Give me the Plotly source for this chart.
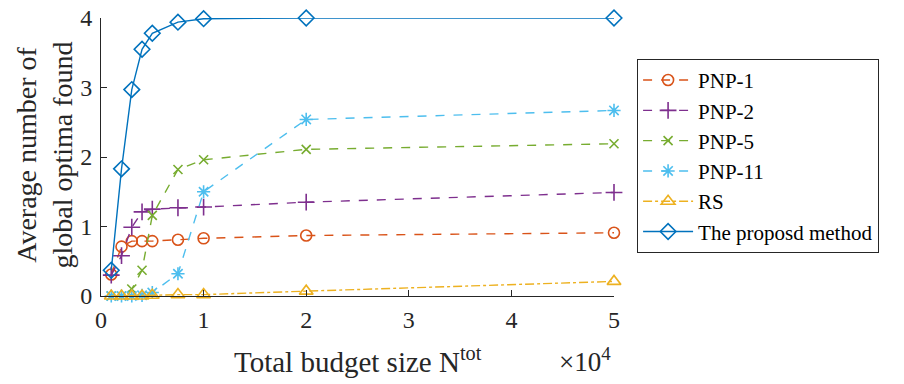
import plotly.graph_objects as go

# Total budget sizes (evaluations) and average number of global optima found
budget = [1000, 2000, 3000, 4000, 5000, 7500, 10000, 20000, 50000]

pnp1 = [0.31, 0.71, 0.79, 0.79, 0.79, 0.81, 0.83, 0.87, 0.91]
pnp2 = [0.30, 0.58, 0.99, 1.21, 1.25, 1.27, 1.28, 1.35, 1.49]
pnp5 = [0.00, 0.00, 0.10, 0.37, 1.16, 1.82, 1.96, 2.11, 2.19]
pnp11 = [0.00, 0.00, 0.00, 0.01, 0.05, 0.32, 1.50, 2.54, 2.67]
rs = [0.00, 0.00, 0.00, 0.00, 0.01, 0.02, 0.02, 0.07, 0.21]
proposed = [0.37, 1.83, 2.97, 3.55, 3.78, 3.94, 3.99, 4.00, 4.00]

x_ticks = [0, 1, 2, 3, 4, 5]
y_ticks = [0, 1, 2, 3, 4]

series = [
    ("PNP-1", pnp1, "#D95319", "dash", "circle-open", 11),
    ("PNP-2", pnp2, "#7E2F8E", "dash", "cross-thin-open", 12),
    ("PNP-5", pnp5, "#77AC30", "dash", "x-thin-open", 9),
    ("PNP-11", pnp11, "#4DBEEE", "dash", "asterisk-open", 11),
    ("RS", rs, "#EDB120", "dashdot", "triangle-up-open", 12),
    ("The proposd method", proposed, "#0072BD", "solid", "diamond-open", 12),
]

x_scaled = [b / 1e4 for b in budget]

fig = go.Figure()
for name, vals, color, dash, symbol, size in series:
    fig.add_trace(go.Scatter(
        x=x_scaled, y=vals, name=name, mode="lines+markers",
        line=dict(color=color, dash=dash, width=1.4),
        marker=dict(symbol=symbol, size=size, color=color,
                    line=dict(color=color, width=1.6)),
        cliponaxis=False,
    ))

serif = "Liberation Serif, Times New Roman, serif"
axis_color = "#262626"

fig.update_layout(
    width=904, height=384,
    margin=dict(l=101, r=290, t=18, b=88, autoexpand=False),
    paper_bgcolor="white", plot_bgcolor="white",
    font=dict(family=serif, size=23, color="black"),
    showlegend=True,
    legend=dict(
        x=1.045, y=0.504, xanchor="left", yanchor="middle",
        bordercolor="#262626", borderwidth=1, bgcolor="white",
        font=dict(family=serif, size=21, color="black"),
        itemwidth=50, tracegroupgap=0,
    ),
    xaxis=dict(
        range=[0, 5], tickvals=x_ticks, ticktext=[str(t) for t in x_ticks],
        showline=True, linecolor=axis_color, linewidth=1,
        ticks="inside", ticklen=6, tickcolor=axis_color,
        showgrid=False, zeroline=False, automargin=False,
        ticklabelstandoff=2,
        tickfont=dict(family=serif, size=24, color="#262626"),
    ),
    yaxis=dict(
        range=[0, 4], tickvals=y_ticks, ticktext=[str(t) for t in y_ticks],
        showline=True, linecolor=axis_color, linewidth=1,
        ticks="inside", ticklen=6, tickcolor=axis_color,
        showgrid=False, zeroline=False, automargin=False,
        ticklabelstandoff=3,
        tickfont=dict(family=serif, size=24, color="#262626"),
    ),
    annotations=[
        dict(text="Total budget size N<sup>tot</sup>", xref="paper", yref="paper",
             x=0.5, y=0, xanchor="center", yanchor="top", yshift=-44,
             showarrow=False, font=dict(family=serif, size=29, color="#262626")),
        dict(text="×10<sup>4</sup>", xref="paper", yref="paper",
             x=1.0, y=0, xanchor="right", yanchor="top", yshift=-45, xshift=-1,
             showarrow=False, font=dict(family=serif, size=27, color="#262626")),
        dict(text="Average number of<br>global optima found", xref="paper", yref="paper",
             x=0, y=0.5, xanchor="right", yanchor="middle", xshift=-22, yshift=2,
             textangle=-90, showarrow=False,
             font=dict(family=serif, size=28, color="#262626")),
    ],
)

fig.write_html("out.html")
